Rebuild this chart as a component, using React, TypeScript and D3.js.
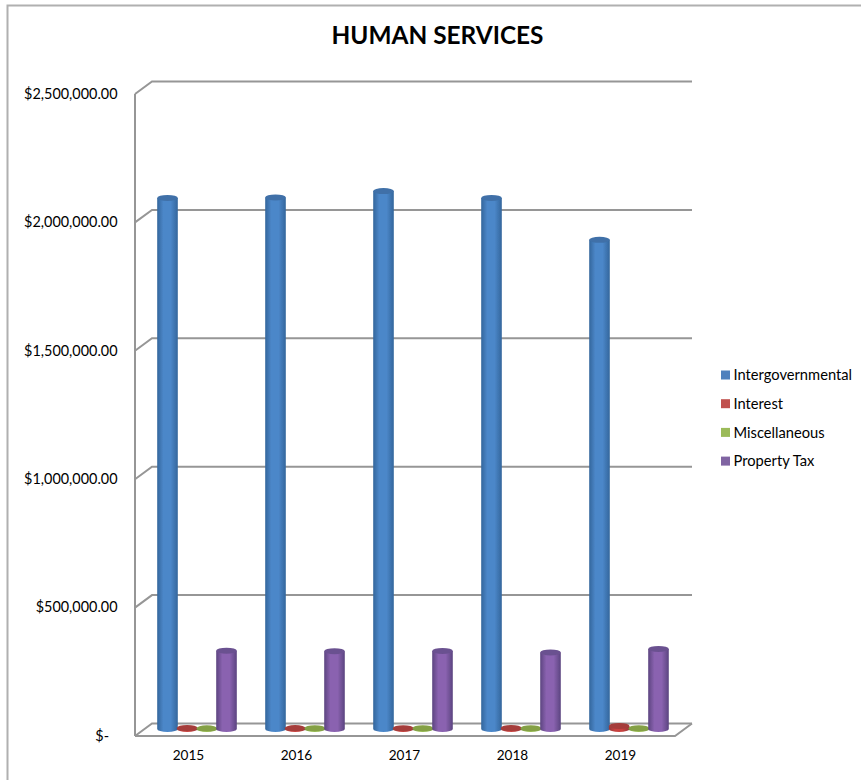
import React from "react";
import * as d3 from "d3";

const years = ["2015", "2016", "2017", "2018", "2019"];
const seriesNames = ["Intergovernmental", "Interest", "Miscellaneous", "Property Tax"];
const intergovernmental = [2068000, 2070000, 2095000, 2068000, 1905000];
const interest = [4000, 3500, 3000, 4000, 12000];
const miscellaneous = [2500, 3000, 3000, 3000, 3000];
const propertyTax = [305000, 303000, 304000, 298000, 312000];
const tickValues = [0, 500000, 1000000, 1500000, 2000000, 2500000];
const tickLabels = ["$-", "$500,000.00", "$1,000,000.00", "$1,500,000.00", "$2,000,000.00", "$2,500,000.00"];
const seriesColors = ["#4f81bd", "#c0504d", "#9bbb59", "#8064a2"];
const edgeColors = ["#34669c", "#93383a", "#6f8b38", "#5c4580"];
const midColors = ["#4b87c9", "#c8433f", "#9bbf55", "#8a62b0"];
const topColors = ["#3f70a8", "#a53d3a", "#84a044", "#6b5190"];
const seriesData = [intergovernmental, interest, miscellaneous, propertyTax];

const FONT = "Lato, Carlito, 'Open Sans', sans-serif";

export default function App() {
  const y = d3.scaleLinear().domain([0, 2500000]).range([736, 94]);
  const x0 = d3.scaleBand().domain(years).range([135, 675]);
  const bandW = x0.bandwidth();
  const seriesX = d3.scaleLinear().domain([0, 3]).range([32.5, 91.5]);
  const barRx = 10.3;
  const barRy = 3;
  const depthX = 17;
  const depthY = -12.5;
  const baseY = -7;
  const grid = "#969696";

  return (
    <svg
      width={861}
      height={780}
      style={{ position: "absolute", left: 0, top: 0, background: "#fff" }}
      fontFamily={FONT}
    >
      <defs>
        {seriesNames.map((n, i) => (
          <linearGradient id={`g${i}`} key={n} x1="0" x2="1" y1="0" y2="0">
            <stop offset="0" stopColor={edgeColors[i]} />
            <stop offset="0.3" stopColor={midColors[i]} />
            <stop offset="0.65" stopColor={midColors[i]} />
            <stop offset="1" stopColor={edgeColors[i]} />
          </linearGradient>
        ))}
        <filter id="soft" x="-10%" y="-10%" width="120%" height="120%">
          <feGaussianBlur stdDeviation="0.4" />
        </filter>
      </defs>

      <path d="M861,5.5H7.5V780" fill="none" stroke="#b0b0b0" strokeWidth={2} />

      <text x={437.5} y={43.5} textAnchor="middle" fontSize={24.4} fontWeight={700} fill="#000">
        HUMAN SERVICES
      </text>

      <g filter="url(#soft)">
        <line x1={135} x2={135} y1={y(2500000)} y2={y(0)} stroke={grid} strokeWidth={2} />
        {tickValues.map((t) => (
          <path
            key={t}
            d={`M135,${y(t)}L${135 + depthX},${y(t) + depthY}H${675 + depthX}`}
            fill="none"
            stroke={grid}
            strokeWidth={2}
          />
        ))}
        <path
          d={`M135,${y(0)}H675L${675 + depthX},${y(0) + depthY}`}
          fill="none"
          stroke={grid}
          strokeWidth={2}
        />

        {years.map((yr, gi) =>
          seriesData.map((vals, si) => {
            const cx = (x0(yr) as number) + seriesX(si);
            const bottom = y(0) + baseY;
            const top = y(vals[gi]) + baseY;
            const d = `M${cx - barRx},${top}V${bottom}A${barRx},${barRy} 0 0 0 ${cx + barRx},${bottom}V${top}Z`;
            return (
              <g key={`${yr}-${si}`}>
                <path d={d} fill={`url(#g${si})`} />
                <ellipse cx={cx} cy={top} rx={barRx} ry={barRy} fill={topColors[si]} />
              </g>
            );
          })
        )}
      </g>

      {tickValues.map((t, i) => (
        <text key={t} x={t === 0 ? 109 : 117.5} y={y(t) + 4.7} textAnchor="end" fontSize={14.4} fill="#000">
          {tickLabels[i]}
        </text>
      ))}

      {years.map((yr) => (
        <text
          key={yr}
          x={(x0(yr) as number) + bandW / 2 - 0.5}
          y={760}
          textAnchor="middle"
          fontSize={13.6}
          fill="#000"
        >
          {yr}
        </text>
      ))}

      {seriesNames.map((n, i) => (
        <g key={n}>
          <rect x={721} y={370.5 + i * 28.7} width={9} height={9} fill={seriesColors[i]} />
          <text x={733.5} y={380.3 + i * 28.7} fontSize={14.7} fill="#000">
            {n}
          </text>
        </g>
      ))}
    </svg>
  );
}
